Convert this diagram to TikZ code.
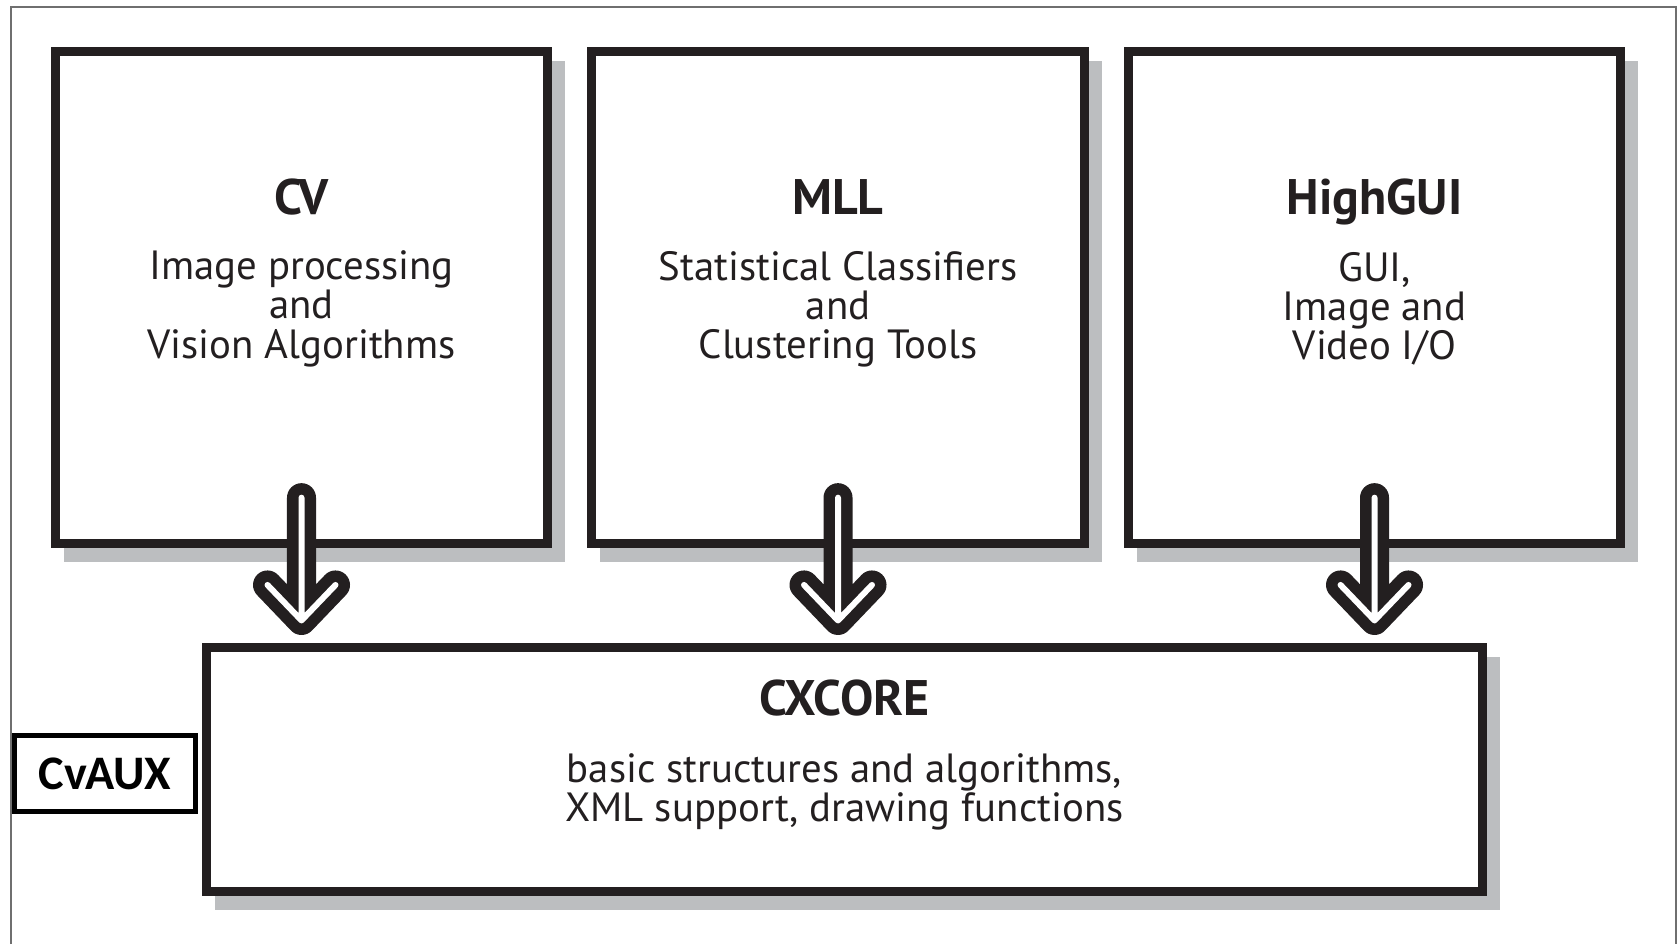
\documentclass[tikz,border=0pt]{standalone}
\usepackage{fontspec}
\setmainfont{PT Sans}
\newfontfamily\auxfont{Carlito}
\usepackage{tikz}
\usetikzlibrary{calc}
\usetikzlibrary{positioning,backgrounds}
\definecolor{InkBlack}{HTML}{231F20}
\definecolor{ShadowGray}{HTML}{BCBEC0}
\definecolor{FrameGray}{HTML}{6F6F6F}
% hollow arrow from one module down to the core box
\newcommand{\HollowArrow}[2]{%
\draw[ArrowOutline] ($(#1.south)+(0,-50.5)$) -- ($(#2.north -| #1.south)+(0,-22.5)$) -- ++(-34,-35.5) -- ++(34,35.5) -- ++(34,-35.5);
\draw[ArrowInside] ($(#1.south)+(0,-50.5)$) -- ($(#2.north -| #1.south)+(0,-22.5)$) -- ++(-34,-35.5) -- ++(34,35.5) -- ++(34,-35.5);
}
\newcommand{\BoxShadow}[1]{\fill[ShadowGray] ($(#1.north west)+(13,14)$) rectangle ($(#1.south east)+(13,14)$)}

\begin{document}
\begin{tikzpicture}[
x=0.01cm, y=-0.01cm,
ModuleBox/.style={draw=InkBlack, line width=0.09cm, fill=white, inner sep=0pt, minimum width=4.92cm, minimum height=4.92cm},
CoreBox/.style={ModuleBox, minimum width=12.76cm, minimum height=2.44cm},
AuxBox/.style={draw=black, line width=0.05cm, fill=white, inner sep=0pt, minimum width=1.81cm, minimum height=0.76cm, font=\auxfont\bfseries\fontsize{13.7}{15}\selectfont},
ModTitle/.style={anchor=base, text=InkBlack, font=\bfseries\fontsize{14.2}{16}\selectfont},
ModText/.style={align=center, text=InkBlack, font=\fontsize{11.6}{11.1}\selectfont},
ArrowOutline/.style={draw=InkBlack, line width=0.29cm, line cap=round, line join=round},
ArrowInside/.style={draw=white, line width=0.06cm, line cap=round, line join=round},
FrameLine/.style={draw=FrameGray, line width=0.02cm}
]
\useasboundingbox (0,0) rectangle (1677,944);

\draw[FrameLine] (11,944) -- (11,7) -- (1676,7) -- (1676,944);

% the three modules
\node[ModuleBox] (CV) at (301.5,297.5) {};
\node[ModuleBox] (MLL) at (838,297.5) {};
\node[ModuleBox] (HighGUI) at (1374.5,297.5) {};

\node[CoreBox] (CXCORE) at (844.5,769.5) {};
\node[AuxBox] (CvAUX) at (105,773.5) {CvAUX};

\begin{scope}[on background layer]
\BoxShadow{CV};
\BoxShadow{MLL};
\BoxShadow{HighGUI};
\BoxShadow{CXCORE};
\end{scope}

\node[ModTitle] (CVtitle) at ($(CV.north)+(0,168)$) {CV};
\node[ModText] (CVtext) at ($(CV.north)+(0,262)$) {Image processing\\and\\Vision Algorithms};

\node[ModTitle] (MLLtitle) at ($(MLL.north)+(0,168)$) {MLL};
\node[ModText] (MLLtext) at ($(MLL.north)+(0,262)$) {Statistical Classifiers\\and\\Clustering Tools};

\node[ModTitle] (HighGUItitle) at ($(HighGUI.north)+(0,168)$) {HighGUI};
\node[ModText] (HighGUItext) at ($(HighGUI.north)+(0,262)$) {GUI,\\Image and\\Video I/O};

\node[ModTitle] (CXCOREtitle) at ($(CXCORE.north)+(0,73)$) {CXCORE};
\node[ModText] (CXCOREtext) at ($(CXCORE.north)+(0,149)$) {basic structures and algorithms,\\XML support, drawing functions};

\HollowArrow{CV}{CXCORE}
\HollowArrow{MLL}{CXCORE}
\HollowArrow{HighGUI}{CXCORE}

\end{tikzpicture}
\end{document}
